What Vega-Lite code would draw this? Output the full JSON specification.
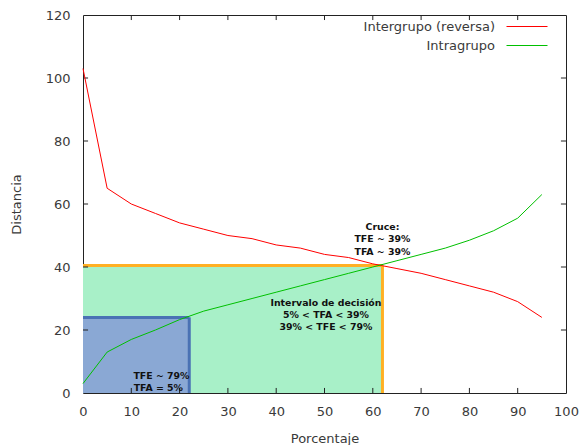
{
  "$schema": "https://vega.github.io/schema/vega-lite/v6.json",
  "width": 483,
  "height": 378,
  "autosize": "none",
  "padding": {"left": 83, "top": 15, "right": 14, "bottom": 52},
  "background": "white",
  "config": {
    "view": {"stroke": "#222", "strokeWidth": 1},
    "font": "DejaVu Sans",
    "axis": {"grid": false, "domain": false, "ticks": false, "labelFlush": false, "labelFont": "DejaVu Sans", "labelFontSize": 13, "labelColor": "#3a3a3a", "titleFont": "DejaVu Sans", "titleFontSize": 13, "titleFontWeight": "normal", "titleColor": "#3a3a3a"}
  },
  "datasets": {
    "lines": [
      {"p": 0, "d": 103, "s": "Intergrupo (reversa)"},
      {"p": 5, "d": 65, "s": "Intergrupo (reversa)"},
      {"p": 10, "d": 60, "s": "Intergrupo (reversa)"},
      {"p": 15, "d": 57, "s": "Intergrupo (reversa)"},
      {"p": 20, "d": 54, "s": "Intergrupo (reversa)"},
      {"p": 25, "d": 52, "s": "Intergrupo (reversa)"},
      {"p": 30, "d": 50, "s": "Intergrupo (reversa)"},
      {"p": 35, "d": 49, "s": "Intergrupo (reversa)"},
      {"p": 40, "d": 47, "s": "Intergrupo (reversa)"},
      {"p": 45, "d": 46, "s": "Intergrupo (reversa)"},
      {"p": 50, "d": 44, "s": "Intergrupo (reversa)"},
      {"p": 55, "d": 43, "s": "Intergrupo (reversa)"},
      {"p": 60, "d": 41, "s": "Intergrupo (reversa)"},
      {"p": 65, "d": 39.5, "s": "Intergrupo (reversa)"},
      {"p": 70, "d": 38, "s": "Intergrupo (reversa)"},
      {"p": 75, "d": 36, "s": "Intergrupo (reversa)"},
      {"p": 80, "d": 34, "s": "Intergrupo (reversa)"},
      {"p": 85, "d": 32, "s": "Intergrupo (reversa)"},
      {"p": 90, "d": 29, "s": "Intergrupo (reversa)"},
      {"p": 95, "d": 24, "s": "Intergrupo (reversa)"},
      {"p": 0, "d": 3, "s": "Intragrupo"},
      {"p": 5, "d": 13, "s": "Intragrupo"},
      {"p": 10, "d": 17, "s": "Intragrupo"},
      {"p": 15, "d": 20, "s": "Intragrupo"},
      {"p": 20, "d": 23.3, "s": "Intragrupo"},
      {"p": 25, "d": 26, "s": "Intragrupo"},
      {"p": 30, "d": 28, "s": "Intragrupo"},
      {"p": 35, "d": 30, "s": "Intragrupo"},
      {"p": 40, "d": 32, "s": "Intragrupo"},
      {"p": 45, "d": 34, "s": "Intragrupo"},
      {"p": 50, "d": 36, "s": "Intragrupo"},
      {"p": 55, "d": 38, "s": "Intragrupo"},
      {"p": 60, "d": 40, "s": "Intragrupo"},
      {"p": 65, "d": 42, "s": "Intragrupo"},
      {"p": 70, "d": 44, "s": "Intragrupo"},
      {"p": 75, "d": 46, "s": "Intragrupo"},
      {"p": 80, "d": 48.5, "s": "Intragrupo"},
      {"p": 85, "d": 51.5, "s": "Intragrupo"},
      {"p": 90, "d": 55.5, "s": "Intragrupo"},
      {"p": 95, "d": 63, "s": "Intragrupo"}
    ],
    "regions": [
      {"name": "decision", "x0": 0, "x1": 62, "y0": 0, "y1": 40.5},
      {"name": "point", "x0": 0, "x1": 22, "y0": 0, "y1": 24}
    ],
    "xticks": [{"v": 10}, {"v": 20}, {"v": 30}, {"v": 40}, {"v": 50}, {"v": 60}, {"v": 70}, {"v": 80}, {"v": 90}],
    "yticks": [{"v": 20}, {"v": 40}, {"v": 60}, {"v": 80}, {"v": 100}],
    "labels": [
      {"x": 62, "y": 52.8, "t": "Cruce:"},
      {"x": 62, "y": 48.9, "t": "TFE ~ 39%"},
      {"x": 62, "y": 44.9, "t": "TFA ~ 39%"},
      {"x": 50.3, "y": 28.7, "t": "Intervalo de decisión"},
      {"x": 50.3, "y": 24.8, "t": "5% < TFA < 39%"},
      {"x": 50.3, "y": 20.9, "t": "39% < TFE < 79%"},
      {"x": 16.25, "y": 5.5, "t": "TFE ~ 79%"},
      {"x": 15.6, "y": 1.7, "t": "TFA = 5%"}
    ]
  },
  "layer": [
    {
      "data": {"name": "regions"},
      "mark": {"type": "rect"},
      "encoding": {
        "x": {"field": "x0", "type": "quantitative", "scale": {"domain": [0, 100], "nice": false, "zero": false}, "axis": {"title": "Porcentaje", "values": [0,10,20,30,40,50,60,70,80,90,100], "labelPadding": 12, "titlePadding": 14, "orient": "bottom"}},
        "x2": {"field": "x1"},
        "y": {"field": "y0", "type": "quantitative", "scale": {"domain": [0, 120], "nice": false}, "axis": {"title": "Distancia", "values": [0,20,40,60,80,100,120], "labelPadding": 13, "titlePadding": 22, "orient": "left"}},
        "y2": {"field": "y1"},
        "fill": {"field": "name", "type": "nominal", "scale": {"domain": ["decision", "point"], "range": ["#a8f0c8", "#8aa8d4"]}, "legend": null}
      }
    },
    {
      "data": {"name": "regions"},
      "mark": {"type": "rule", "strokeWidth": 3},
      "encoding": {
        "x": {"field": "x0", "type": "quantitative"},
        "x2": {"field": "x1"},
        "y": {"field": "y1", "type": "quantitative"},
        "stroke": {"field": "name", "type": "nominal", "scale": {"domain": ["decision", "point"], "range": ["#ffb024", "#4a72b4"]}, "legend": null}
      }
    },
    {
      "data": {"name": "regions"},
      "mark": {"type": "rule", "strokeWidth": 3},
      "encoding": {
        "x": {"field": "x1", "type": "quantitative"},
        "y": {"field": "y0", "type": "quantitative"},
        "y2": {"field": "y1"},
        "stroke": {"field": "name", "type": "nominal", "scale": {"domain": ["decision", "point"], "range": ["#ffb024", "#4a72b4"]}, "legend": null}
      }
    },
    {
      "data": {"name": "xticks"},
      "mark": {"type": "rule", "strokeWidth": 1, "color": "#222"},
      "encoding": {
        "x": {"field": "v", "type": "quantitative"},
        "y": {"datum": 0},
        "y2": {"datum": 1.6}
      }
    },
    {
      "data": {"name": "xticks"},
      "mark": {"type": "rule", "strokeWidth": 1, "color": "#222"},
      "encoding": {
        "x": {"field": "v", "type": "quantitative"},
        "y": {"datum": 120},
        "y2": {"datum": 118.4}
      }
    },
    {
      "data": {"name": "yticks"},
      "mark": {"type": "rule", "strokeWidth": 1, "color": "#222"},
      "encoding": {
        "y": {"field": "v", "type": "quantitative"},
        "x": {"datum": 0},
        "x2": {"datum": 1.05}
      }
    },
    {
      "data": {"name": "yticks"},
      "mark": {"type": "rule", "strokeWidth": 1, "color": "#222"},
      "encoding": {
        "y": {"field": "v", "type": "quantitative"},
        "x": {"datum": 100},
        "x2": {"datum": 98.95}
      }
    },
    {
      "data": {"name": "lines"},
      "mark": {"type": "line", "strokeWidth": 1},
      "encoding": {
        "x": {"field": "p", "type": "quantitative"},
        "y": {"field": "d", "type": "quantitative"},
        "color": {"field": "s", "type": "nominal", "scale": {"domain": ["Intergrupo (reversa)", "Intragrupo"], "range": ["#ff0000", "#00c000"]},
          "legend": {"title": null, "orient": "none", "legendX": 437.5, "legendY": 5, "symbolType": "M-4.1,0H4.1", "symbolSize": 100, "symbolStrokeWidth": 1, "labelAlign": "right", "labelOffset": -38.5, "labelFont": "DejaVu Sans", "labelFontSize": 13, "labelColor": "#3a3a3a", "rowPadding": 5, "padding": 0}}
      }
    },
    {
      "data": {"name": "labels"},
      "mark": {"type": "text", "font": "DejaVu Sans", "fontWeight": "bold", "fontSize": 9.4, "color": "#111", "baseline": "middle", "align": "center"},
      "encoding": {
        "x": {"field": "x", "type": "quantitative"},
        "y": {"field": "y", "type": "quantitative"},
        "text": {"field": "t"}
      }
    }
  ]
}
